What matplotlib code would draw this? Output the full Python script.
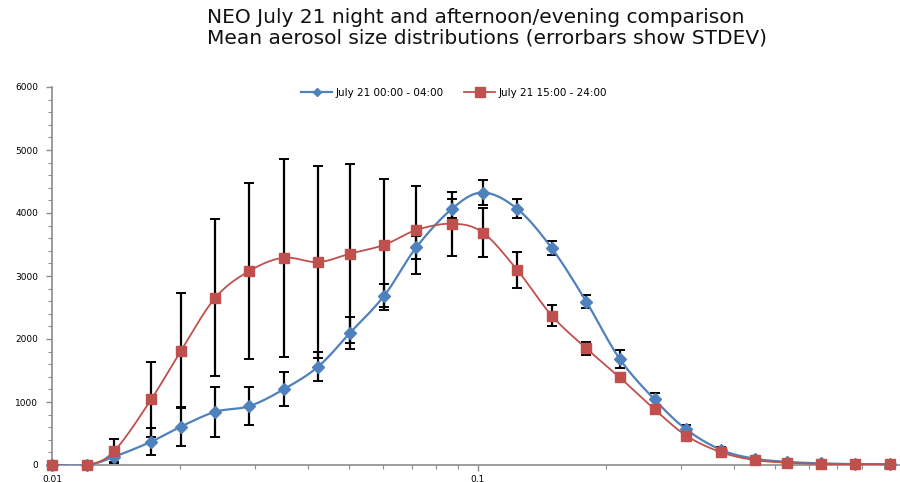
import numpy as np
import matplotlib
matplotlib.use("Agg")
import matplotlib.pyplot as plt
from matplotlib.ticker import LogLocator, MultipleLocator, FuncFormatter

# particle diameter (um) of each size bin
diameter = [0.0100, 0.0121, 0.0140, 0.0171, 0.0201, 0.0242, 0.0291, 0.0350,
            0.0422, 0.0502, 0.0604, 0.0718, 0.0872, 0.1029, 0.1240, 0.1495,
            0.1801, 0.2158, 0.2607, 0.3095, 0.3741, 0.4480, 0.5338, 0.6429,
            0.7729, 0.9307]

night_mean = [0, 0, 130, 370, 610, 845, 935, 1200, 1560, 2100, 2690, 3455,
              4070, 4325, 4065, 3440, 2595, 1685, 1040, 565, 238, 100, 50,
              25, 15, 12]
night_std = [0, 0, 90, 210, 310, 395, 305, 270, 230, 255, 185, 180,
             155, 205, 150, 110, 110, 145, 100, 70, 40, 0, 0, 0, 0, 0]

evening_mean = [0, 0, 222, 1040, 1815, 2655, 3080, 3290, 3220, 3355, 3495,
                3730, 3830, 3690, 3095, 2370, 1852, 1392, 884, 466, 201, 79,
                37, 16, 12, 10]
evening_std = [0, 0, 190, 600, 910, 1250, 1400, 1570, 1520, 1420, 1040,
               700, 510, 395, 290, 165, 100, 0, 0, 0, 0, 0, 0, 0, 0, 0]

labels = ["July 21 00:00 - 04:00", "July 21 15:00 - 24:00"]
title_lines = ["NEO July 21 night and afternoon/evening comparison",
               "Mean aerosol size distributions (errorbars show STDEV)"]


def smooth(xs, ys, n=20):
    # Catmull-Rom style bezier through the points, in log-x space
    lx = np.log10(xs)
    ys = np.asarray(ys, dtype=float)
    P = np.column_stack([lx, ys])
    P = np.vstack([P[0], P, P[-1]])
    out = []
    t = np.linspace(0, 1, n)[:, None]
    for i in range(1, len(P) - 2):
        p0, p1, p2, p3 = P[i - 1], P[i], P[i + 1], P[i + 2]
        c1 = p1 + (p2 - p0) / 6
        c2 = p2 - (p3 - p1) / 6
        seg = ((1 - t) ** 3 * p1 + 3 * (1 - t) ** 2 * t * c1
               + 3 * (1 - t) * t ** 2 * c2 + t ** 3 * p2)
        out.append(seg if i == 1 else seg[1:])
    out = np.vstack(out)
    return 10 ** out[:, 0], out[:, 1]


fig = plt.figure(figsize=(9, 4.82), dpi=100)
ax = fig.add_axes([52 / 900, 1 - 465 / 482, 851 / 900, 378 / 482])

blue = "#4F81BD"
red = "#C0504D"

x = np.array(diameter)
series = [(night_mean, night_std, blue, "D", 6, 1.6),
          (evening_mean, evening_std, red, "s", 7.5, 1.3)]
for mean, std, col, mk, ms, lw in series:
    mean = np.array(mean, dtype=float)
    std = np.array(std, dtype=float)
    sx, sy = smooth(x, mean)
    ax.plot(sx, sy, color=col, lw=lw, zorder=3)
    m = std > 0
    ax.errorbar(x[m], mean[m], yerr=std[m], fmt="none", ecolor="black",
                elinewidth=1.6, capsize=3.5, capthick=1.4, zorder=2)
    ax.plot(x, mean, linestyle="none", marker=mk, ms=ms, color=col,
            zorder=4, clip_on=False)

# legend handles
h1, = ax.plot([], [], color=blue, lw=1.6, marker="D", ms=4)
h2, = ax.plot([], [], color=red, lw=1.3, marker="s", ms=6.5)
fig.legend([h1, h2], labels, loc="center", bbox_to_anchor=(454 / 900, 1 - 93 / 482),
           ncol=2, frameon=False, fontsize=7.5, handlelength=3.0,
           columnspacing=2.0, handletextpad=0.3)

ax.set_xscale("log")
ax.set_xlim(0.01, 1)
ax.set_ylim(0, 6000)
ax.xaxis.set_major_locator(LogLocator(base=10))
ax.xaxis.set_minor_locator(LogLocator(base=10, subs=np.arange(2, 10)))
ax.xaxis.set_minor_formatter(FuncFormatter(lambda v, p: ""))
ax.xaxis.set_major_formatter(FuncFormatter(lambda v, p: f"{v:g}".replace(".", ",")))
ax.yaxis.set_major_locator(MultipleLocator(1000))
ax.yaxis.set_minor_locator(MultipleLocator(200))

for s in ["top", "right"]:
    ax.spines[s].set_visible(False)
for s in ["left", "bottom"]:
    ax.spines[s].set_color("#8c8c8c")
    ax.spines[s].set_linewidth(1.2)
ax.tick_params(which="both", direction="out", color="#8c8c8c", labelsize=6.5)
ax.tick_params(which="major", length=4, width=1)
ax.tick_params(which="minor", length=3, width=0.8)
ax.tick_params(axis="x", pad=3)
ax.tick_params(axis="y", pad=6)

# two-line title, left aligned
for line, base in zip(title_lines, [23, 44]):
    fig.text(207 / 900, 1 - base / 482, line, ha="left", va="baseline",
             fontsize=14.5, family="DejaVu Sans", color="#111111")

fig.savefig("out.png", dpi=100)
